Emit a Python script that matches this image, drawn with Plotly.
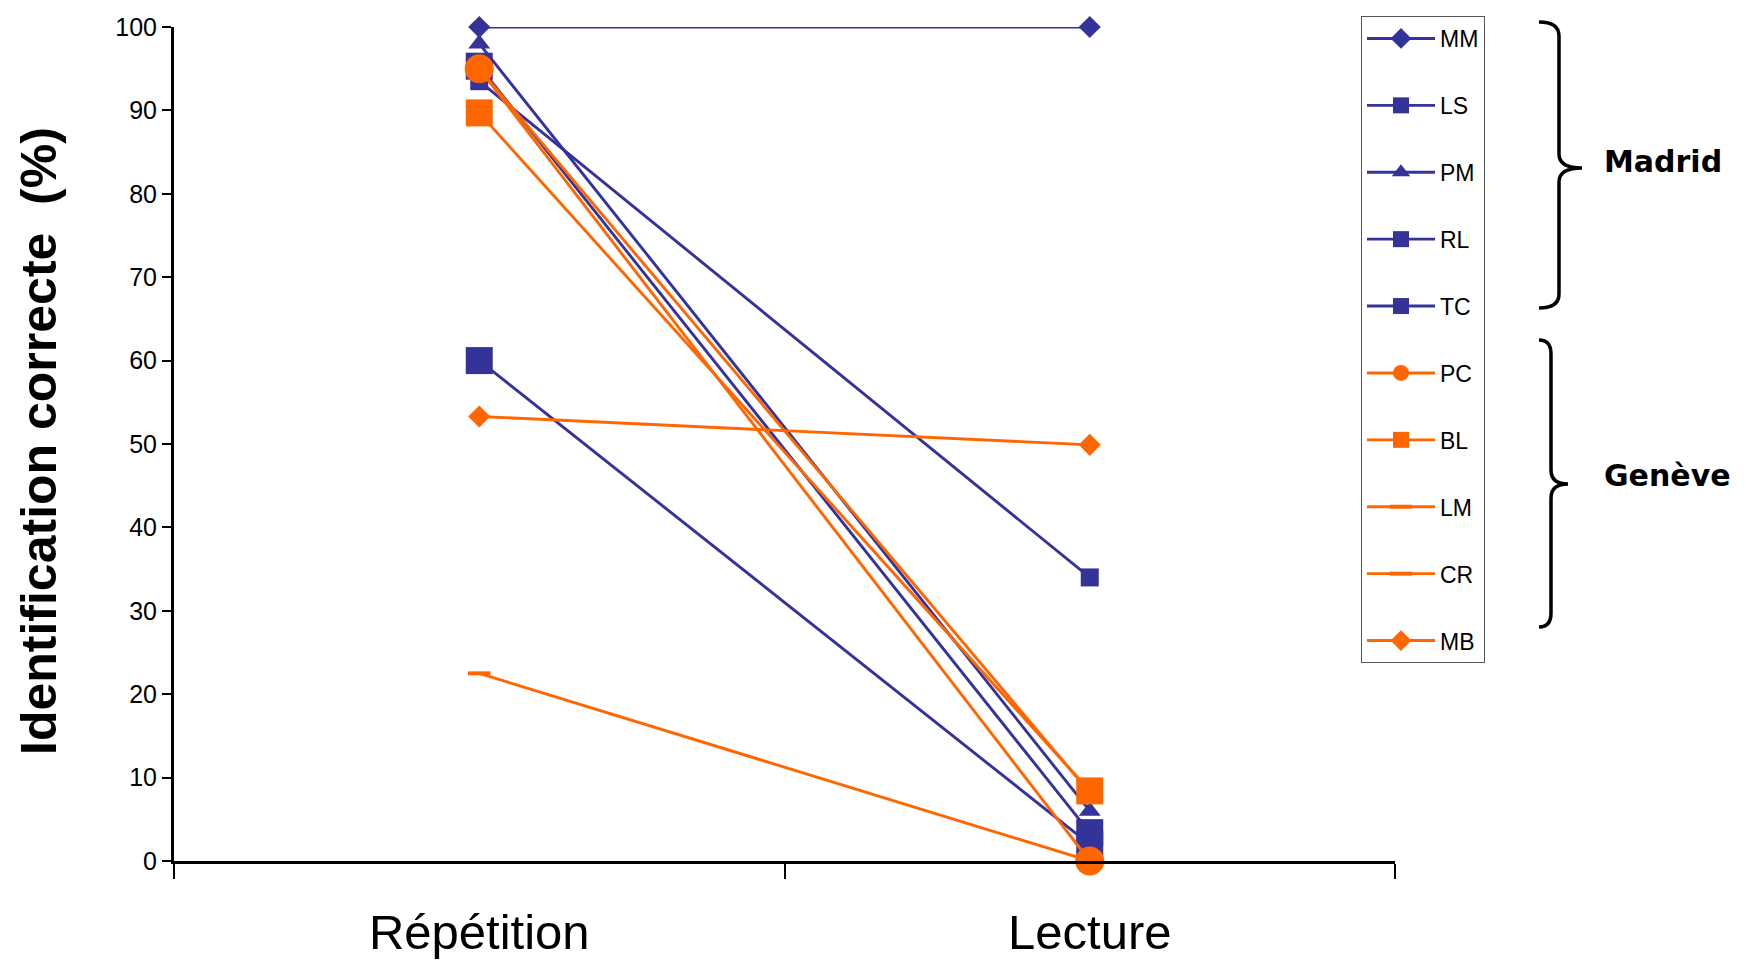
import plotly.graph_objects as go

categories = ["Répétition", "Lecture"]
names = ["MM", "LS", "PM", "RL", "TC", "PC", "BL", "LM", "CR", "MB"]
mm = [100, 100]
ls = [93.5, 34]
pm = [98, 6]
rl = [60, 2]
tc = [95.3, 3.4]
pc = [95, 0]
bl = [89.7, 8.4]
lm = [22.5, 0]
cr = [95, 8.2]
mb = [53.3, 49.9]
y_ticks = [0, 10, 20, 30, 40, 50, 60, 70, 80, 90, 100]

BLUE = "#333399"
ORANGE = "#FF6600"

series = [mm, ls, pm, rl, tc, pc, bl, lm, cr, mb]
colors = [BLUE] * 5 + [ORANGE] * 5
symbols = ["diamond", "square", "triangle-up", "square", "square",
           "circle", "square", "line-ew", "line-ew", "diamond"]
sizes = [17, 18, 19, 27, 27, 29, 27, 16, 16, 17]

W, H = 1746, 961
L, R, T, B = 174, 351, 27, 100
PW, PH = W - L - R, H - T - B


def xp(px):
    return (px - L) / PW


def yp(py):
    return (H - B - py) / PH


fig = go.Figure()
for i, (nm, vals) in enumerate(zip(names, series)):
    mk = dict(symbol=symbols[i], size=sizes[i], color=colors[i])
    if symbols[i] == "line-ew":
        mk["line"] = dict(color=colors[i], width=4)
    else:
        mk["line"] = dict(width=0)
    fig.add_trace(go.Scatter(
        x=categories, y=vals, name=nm, mode="lines+markers",
        line=dict(color=colors[i], width=2.9), marker=mk,
        cliponaxis=False, legendgroup=nm,
    ))


def brace(x0, xv, xt, y0, ym, y1, r):
    pts = [
        f"M {xp(x0)},{yp(y0)}",
        f"Q {xp(xv)},{yp(y0)} {xp(xv)},{yp(y0 + r)}",
        f"L {xp(xv)},{yp(ym - r)}",
        f"Q {xp(xv)},{yp(ym)} {xp(xt)},{yp(ym)}",
        f"Q {xp(xv)},{yp(ym)} {xp(xv)},{yp(ym + r)}",
        f"L {xp(xv)},{yp(y1 - r)}",
        f"Q {xp(xv)},{yp(y1)} {xp(x0)},{yp(y1)}",
    ]
    return " ".join(pts)


shapes = [
    dict(type="path", xref="paper", yref="paper",
         path=brace(1539, 1559, 1582, 22, 168, 308, 14),
         line=dict(color="black", width=3.5)),
    dict(type="path", xref="paper", yref="paper",
         path=brace(1539, 1551, 1568, 340, 484, 627, 14),
         line=dict(color="black", width=3.5)),
]

annotations = [
    dict(text="<b>Madrid</b>", x=xp(1663), y=yp(161), xref="paper", yref="paper",
         showarrow=False, xanchor="center", yanchor="middle",
         font=dict(family="DejaVu Sans", size=30, color="black")),
    dict(text="<b>Genève</b>", x=xp(1667), y=yp(475), xref="paper", yref="paper",
         showarrow=False, xanchor="center", yanchor="middle",
         font=dict(family="DejaVu Sans", size=30, color="black")),
    dict(text="<b>Identification correcte \u00a0(%)</b>", x=xp(39), y=yp(441),
         xref="paper", yref="paper", showarrow=False, textangle=-90,
         xanchor="center", yanchor="middle",
         font=dict(family="Liberation Sans, Arial", size=50, color="black")),
]

fig.update_layout(
    width=W, height=H,
    margin=dict(l=L, r=R, t=T, b=B, pad=0, autoexpand=False),
    paper_bgcolor="white", plot_bgcolor="white",
    font=dict(family="Liberation Sans, Arial", color="black"),
    showlegend=True,
    legend=dict(
        x=xp(1361), y=yp(663), xanchor="left", yanchor="bottom",
        bgcolor="white", bordercolor="#555555", borderwidth=1,
        font=dict(size=23, color="black"),
        tracegroupgap=34, traceorder="grouped",
        itemwidth=68,
    ),
    shapes=shapes,
    annotations=annotations,
)
fig.update_xaxes(
    type="category", range=[-0.5, 1.5], tickson="boundaries",
    showline=True, linecolor="black", linewidth=3,
    ticks="outside", ticklen=15, tickwidth=2, tickcolor="black",
    showgrid=False, zeroline=False, automargin=False,
    ticklabelstandoff=26,
    tickfont=dict(size=49, color="black"),
)
fig.update_yaxes(
    range=[0, 100], tickvals=y_ticks,
    showline=True, linecolor="black", linewidth=3,
    ticks="outside", ticklen=9, tickwidth=2, tickcolor="black",
    showgrid=False, zeroline=False, automargin=False,
    tickfont=dict(size=25, color="black"),
)

fig.write_html("out.html")
